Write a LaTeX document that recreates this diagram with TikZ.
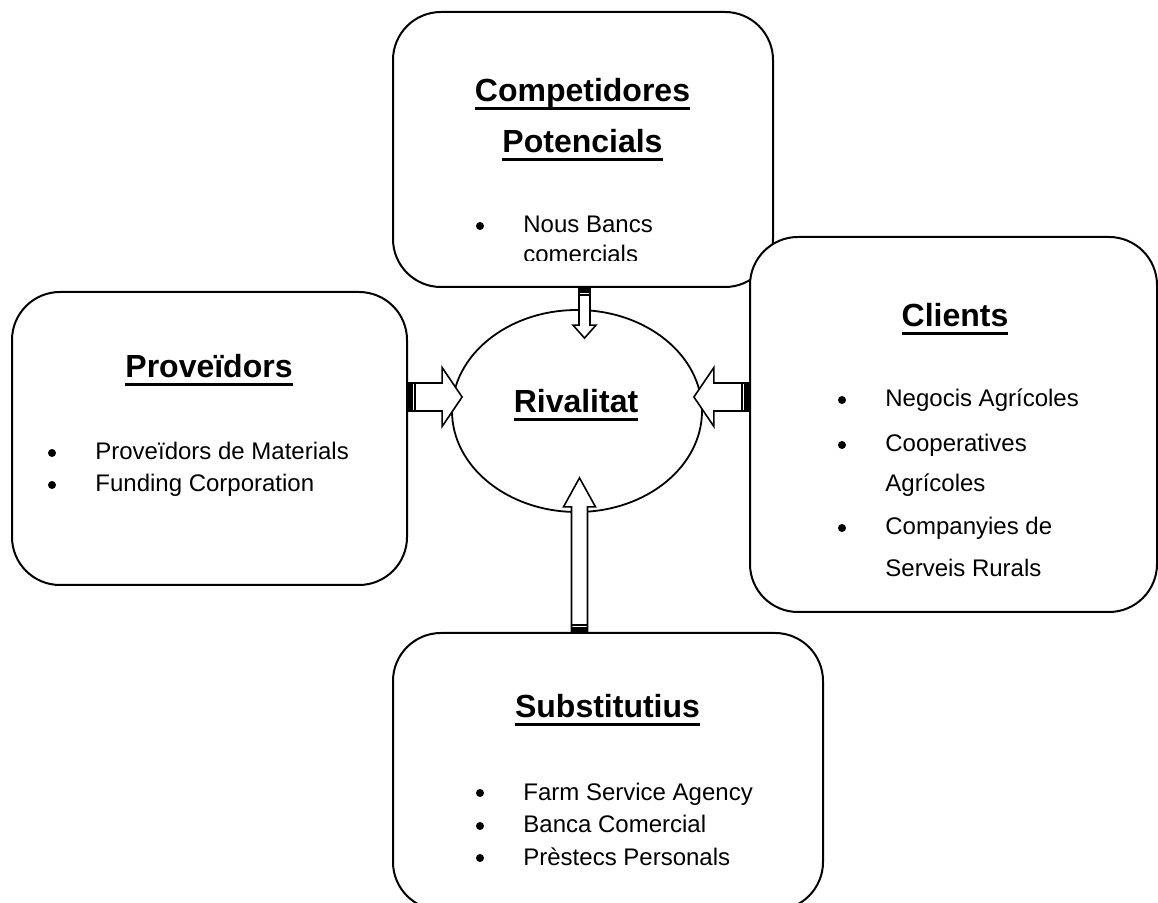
\documentclass[tikz,border=0pt]{standalone}
\usepackage{fontspec}
\setmainfont{Liberation Sans}
\usetikzlibrary{calc,positioning,shapes.geometric}

% subratllat a l'estil del Word (a alcada fixa)
\newcommand{\titul}[1]{\setbox0\hbox{#1}\rlap{\vrule width\wd0 height -2.6pt depth 4.1pt}\box0}

% fletxa de bloc: cua, punta, mig gruix, mig cap, llargada del cap
\newcommand{\blockarrow}[5]{%
  \coordinate (ba-a) at #1;
  \coordinate (ba-b) at #2;
  \coordinate (ba-n) at ($(ba-b)!#5!(ba-a)$);
  \coordinate (ba-t) at ($(ba-a)!2.5pt!(ba-b)$);
  \coordinate (ba-s) at ($(ba-a)!3.6pt!(ba-b)$);
  \draw[blockarr] ($(ba-a)!#3!90:(ba-b)$) -- ($(ba-n)!#3!-90:(ba-a)$) -- ($(ba-n)!#4!-90:(ba-a)$) -- (ba-b) -- ($(ba-n)!#4!90:(ba-a)$) -- ($(ba-n)!#3!90:(ba-a)$) -- ($(ba-a)!#3!-90:(ba-b)$) -- cycle;
  \fill ($(ba-a)!#3!90:(ba-b)$) -- ($(ba-t)!#3!-90:(ba-a)$) -- ($(ba-t)!#3!90:(ba-a)$) -- ($(ba-a)!#3!-90:(ba-b)$) -- cycle;
  \draw[line width=0.8pt] ($(ba-s)!#3!-90:(ba-a)$) -- ($(ba-s)!#3!90:(ba-a)$);
}

\begin{document}
\begin{tikzpicture}[x=0.5pt, y=-0.5pt,
caixa/.style={rectangle, draw, fill=white, line width=1pt, rounded corners=24pt, inner sep=0pt},
titol/.style={font=\fontsize{16}{19}\selectfont\bfseries, anchor=base, inner sep=0pt},
item/.style={font=\fontsize{12}{14}\selectfont, anchor=base west, inner sep=0pt},
punt/.style={circle, fill, inner sep=0pt, minimum size=4pt},
blockarr/.style={draw, fill=white, line width=0.8pt, line join=miter}]

\useasboundingbox (0,0) rectangle (1158,903);

\node[caixa, minimum width=190pt, minimum height=137.5pt] (comp) at (583,149.5) {};

\node[caixa, minimum width=197.5pt, minimum height=146.5pt] (prov) at (209.5,438.5) {};

\node[caixa, minimum width=215pt, minimum height=138.5pt] (subs) at (608,771.5) {};

\node[caixa, minimum width=203.5pt, minimum height=187.5pt] (cli) at (953.5,424.5) {};

\node[ellipse, draw, line width=0.9pt, minimum width=125pt, minimum height=101pt, inner sep=0pt] (riv) at (577,411) {};

% titols
\node[titol] (comp-t1) at (582.5,102) {\titul{Competidores}};
\node[titol] (comp-t2) at (582.5,153) {\titul{Potencials}};
\node[titol] (prov-t) at (209,378) {\titul{Proveïdors}};
\node[titol] (cli-t) at (955,327) {\titul{Clients}};
\node[titol] (subs-t) at (607.5,718) {\titul{Substitutius}};
\node[titol] (riv-t) at (576,413) {\titul{Rivalitat}};

% llistes (els punts, a mitja alcada de la x)
\begin{scope}
\clip (comp.north west) rectangle (773,261);
\node[punt] (comp-b1) at (480,226) {};
\node[item] (comp-i1) at (523,233) {Nous Bancs};
\node[item] (comp-i2) at (523,263) {comercials};
\end{scope}

\foreach \y/\t [count=\i] in {460/Proveïdors de Materials, 492/Funding Corporation}{
  \node[punt] (prov-b\i) at (52,\y-7) {};
  \node[item] (prov-i\i) at (95,\y) {\t};
}

\foreach \y/\t [count=\i] in {800/Farm Service Agency, 833/Banca Comercial, 865/Prèstecs Personals}{
  \node[punt] (subs-b\i) at (480,\y-7) {};
  \node[item] (subs-i\i) at (523,\y) {\t};
}

\foreach \y [count=\i] in {407,452,535}
  \node[punt] (cli-b\i) at (842,\y-7) {};
\foreach \y/\t [count=\i] in {407/Negocis Agrícoles, 452/Cooperatives, 492/Agrícoles, 535/Companyies de, 577/Serveis Rurals}
  \node[item] (cli-i\i) at (885,\y) {\t};

% fletxes cap a la rivalitat
\blockarrow{([yshift=20.75pt]prov.east)}{([xshift=5.5pt,yshift=7pt]riv.west)}{7pt}{14.75pt}{10pt}
\blockarrow{([yshift=13.75pt]cli.west)}{([xshift=-4.5pt,yshift=7pt]riv.east)}{7pt}{14.75pt}{10pt}
\blockarrow{([xshift=0.75pt]comp.south)}{([xshift=3.75pt,yshift=-14.5pt]riv.north)}{2.75pt}{5.75pt}{6.5pt}
\blockarrow{([xshift=-14.25pt]subs.north)}{([xshift=1.25pt,yshift=17.5pt]riv.south)}{4pt}{8pt}{14.5pt}

\end{tikzpicture}
\end{document}
